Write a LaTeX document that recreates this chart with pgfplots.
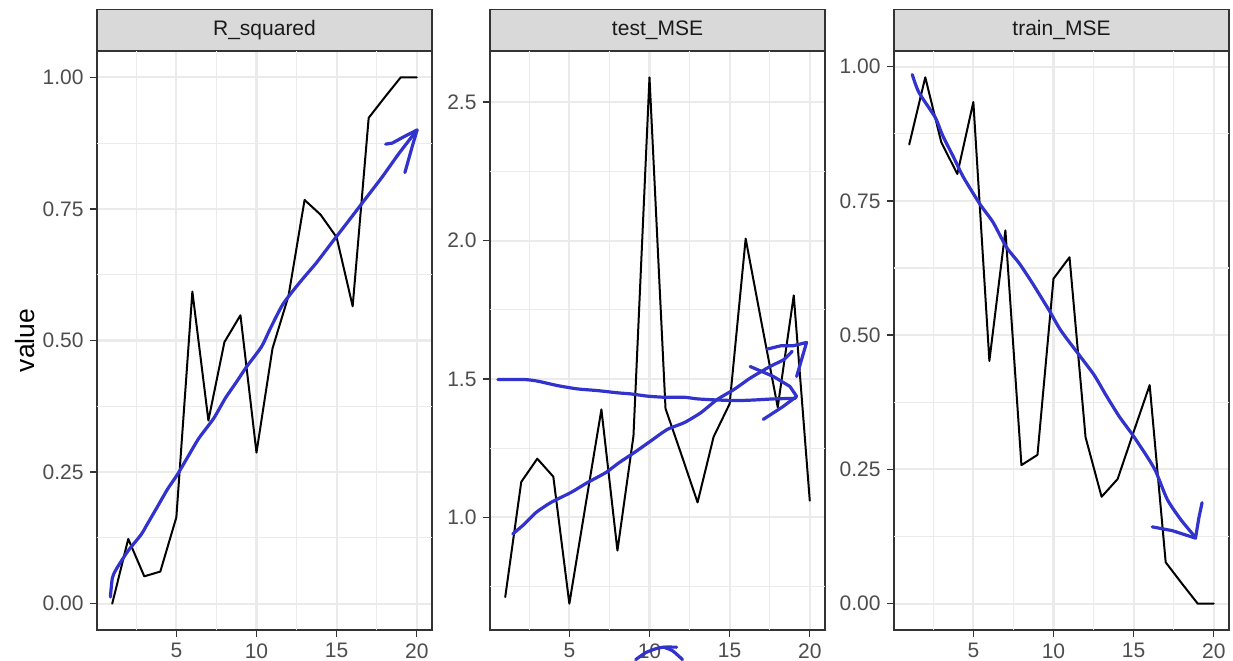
\documentclass[border=0pt]{standalone}
\usepackage{fontspec}
\setmainfont{Liberation Sans}
\usepackage{pgfplots}
\usepackage{pgfplotstable}
\pgfplotsset{compat=1.18}
\definecolor{gridc}{HTML}{EBEBEB}
\definecolor{stripc}{HTML}{D9D9D9}
\definecolor{borderc}{HTML}{333333}
\definecolor{tickc}{HTML}{4D4D4D}
\definecolor{stript}{HTML}{1A1A1A}
\definecolor{pen}{RGB}{50,50,205}

\pgfplotstableread{
x y
1 0.000
2 0.123
3 0.052
4 0.061
5 0.164
6 0.593
7 0.348
8 0.497
9 0.548
10 0.287
11 0.485
12 0.585
13 0.767
14 0.739
15 0.696
16 0.565
17 0.923
18 0.962
19 1.000
20 1.000
}\rsq
\pgfplotstableread{
x y
1 0.712
2 1.128
3 1.212
4 1.147
5 0.688
6 1.040
7 1.390
8 0.880
9 1.294
10 2.590
11 1.393
12 1.225
13 1.054
14 1.291
15 1.410
16 2.007
17 1.700
18 1.398
19 1.802
20 1.060
}\testmse
\pgfplotstableread{
x y
1 0.855
2 0.980
3 0.859
4 0.800
5 0.934
6 0.452
7 0.695
8 0.258
9 0.277
10 0.605
11 0.645
12 0.310
13 0.199
14 0.232
15 0.320
16 0.407
17 0.077
18 0.038
19 0.000
20 0.000
}\trainmse

\pgfplotsset{
  facet/.style={
    scale only axis, width=335bp, height=579bp,
    xmin=0.05, xmax=20.95,
    clip=false,
    xtick={5,10,15,20}, xticklabels={5,10,15,20},
    extra x ticks={2.5,7.5,12.5,17.5}, extra x tick labels={},
    extra x tick style={major grid style={gridc, line width=1.2bp}, tick style={draw=none}},
    extra y tick style={major grid style={gridc, line width=1.2bp}, tick style={draw=none}},
    grid=major,
    major grid style={gridc, line width=2.1bp},
    axis line style={borderc, line width=1.1bp},
    tick pos=left,
    tick align=outside,
    major tick length=7bp,
    tick style={borderc, line width=1.3bp},
    ticklabel style={font=\fontsize{21bp}{25bp}\selectfont, text=tickc},
    xticklabel style={yshift=-3bp},
    yticklabel style={xshift=-3bp},
    every axis title/.style={at={(0.5,1)}, anchor=south, fill=stripc, draw=borderc,
      line width=1.1bp, minimum width=335bp, minimum height=41bp, inner sep=0pt,
      font=\fontsize{21bp}{25bp}\selectfont, text=stript},
    every axis plot/.append style={line join=round, line cap=round},
  },
  tk/.style={borderc, line width=1.4bp, line cap=butt, forget plot},
  dat/.style={black, line width=2bp},
  penl/.style={pen, line width=3.2bp},
}

\begin{document}
\begin{tikzpicture}
\useasboundingbox (0,0) rectangle (1233bp,661bp);
% Panel 1
\begin{axis}[facet, at={(97bp,31bp)}, anchor=south west,
  title={R\_squared},
  ymin=-0.05, ymax=1.05,
  ytick={0,0.25,0.5,0.75,1}, yticklabels={0.00,0.25,0.50,0.75,1.00},
  extra y ticks={0.125,0.375,0.625,0.875}, extra y tick labels={},
  ylabel={value},
  every axis y label/.style={at={(axis description cs:-0.215,0.5)}, rotate=90, anchor=center,
    font=\fontsize{26.5bp}{30bp}\selectfont, text=black},
]
% tick marks
\addplot[tk] coordinates {(5,-0.05)(5,-0.0633)};
\addplot[tk] coordinates {(10,-0.05)(10,-0.0633)};
\addplot[tk] coordinates {(15,-0.05)(15,-0.0633)};
\addplot[tk] coordinates {(20,-0.05)(20,-0.0633)};
\addplot[tk] coordinates {(0.05,0)(-0.387,0)};
\addplot[tk] coordinates {(0.05,0.25)(-0.387,0.25)};
\addplot[tk] coordinates {(0.05,0.5)(-0.387,0.5)};
\addplot[tk] coordinates {(0.05,0.75)(-0.387,0.75)};
\addplot[tk] coordinates {(0.05,1)(-0.387,1)};
% data
\addplot[dat] table {\rsq};
\addplot[penl, smooth, tension=0.4] coordinates {
(0.885,0.0126)(1.01,0.049)(1.26,0.066)(1.98,0.10)(2.80,0.131)(3.11,0.147)(3.72,0.179)
(4.44,0.217)(5.06,0.245)(5.68,0.277)(6.40,0.314)(7.33,0.352)(8.05,0.39)(8.77,0.422)
(9.38,0.45)(10.31,0.488)(10.85,0.522)(11.65,0.569)(12.69,0.61)(13.72,0.647)(14.75,0.688)
(15.79,0.729)(16.82,0.77)(17.85,0.811)(18.88,0.855)(20.02,0.90)};
\addplot[penl] coordinates {
(18.06,0.873)(18.47,0.875)(19.19,0.887)(20.02,0.90)(19.71,0.868)(19.26,0.819)};
\end{axis}
% Panel 2
\begin{axis}[facet, at={(490bp,31bp)}, anchor=south west,
  title={test\_MSE},
  ymin=0.593, ymax=2.685,
  ytick={1,1.5,2,2.5}, yticklabels={1.0,1.5,2.0,2.5},
  extra y ticks={0.75,1.25,1.75,2.25}, extra y tick labels={},
]
\addplot[tk] coordinates {(5,0.593)(5,0.5677)};
\addplot[tk] coordinates {(10,0.593)(10,0.5677)};
\addplot[tk] coordinates {(15,0.593)(15,0.5677)};
\addplot[tk] coordinates {(20,0.593)(20,0.5677)};
\addplot[tk] coordinates {(0.05,1)(-0.387,1)};
\addplot[tk] coordinates {(0.05,1.5)(-0.387,1.5)};
\addplot[tk] coordinates {(0.05,2)(-0.387,2)};
\addplot[tk] coordinates {(0.05,2.5)(-0.387,2.5)};
\addplot[dat] table {\testmse};
\addplot[penl, smooth, tension=0.4] coordinates {
(0.54,1.498)(2.2,1.498)(3.03,1.492)(4.27,1.476)(5.52,1.464)(6.76,1.458)(8.0,1.45)
(8.84,1.446)(9.87,1.438)(10.91,1.434)(12.16,1.434)(12.99,1.428)(14.23,1.424)(15.48,1.422)
(16.51,1.424)(17.76,1.428)(19.11,1.43)};
\addplot[penl] coordinates {
(16.28,1.545)(17.73,1.509)(18.76,1.473)(19.18,1.437)(18.35,1.401)(17.1,1.354)};
\addplot[penl, smooth, tension=0.4] coordinates {
(1.47,0.94)(2.2,0.976)(2.93,1.018)(3.86,1.054)(5.1,1.09)(6.14,1.126)(7.28,1.162)
(8.11,1.198)(9.05,1.234)(10.08,1.276)(11.12,1.318)(12.16,1.342)(13.2,1.378)(14.23,1.426)
(15.27,1.462)(16.31,1.504)(17.55,1.546)(18.38,1.57)(18.9,1.6)};
\addplot[penl] coordinates {
(17.35,1.608)(18.2,1.62)(18.97,1.62)(19.80,1.632)(19.18,1.509)};
\addplot[penl, smooth, tension=0.4] coordinates {
(9.14,0.486)(9.76,0.511)(10.38,0.525)(10.88,0.531)(11.69,0.531)};
\addplot[penl, smooth, tension=0.4] coordinates {
(10.88,0.531)(11.44,0.518)(12.06,0.486)};
\end{axis}
% Panel 3
\begin{axis}[facet, at={(894bp,31bp)}, anchor=south west,
  title={train\_MSE},
  ymin=-0.049, ymax=1.029,
  ytick={0,0.25,0.5,0.75,1}, yticklabels={0.00,0.25,0.50,0.75,1.00},
  extra y ticks={0.125,0.375,0.625,0.875}, extra y tick labels={},
]
\addplot[tk] coordinates {(5,-0.049)(5,-0.062)};
\addplot[tk] coordinates {(10,-0.049)(10,-0.062)};
\addplot[tk] coordinates {(15,-0.049)(15,-0.062)};
\addplot[tk] coordinates {(20,-0.049)(20,-0.062)};
\addplot[tk] coordinates {(0.05,0)(-0.387,0)};
\addplot[tk] coordinates {(0.05,0.25)(-0.387,0.25)};
\addplot[tk] coordinates {(0.05,0.5)(-0.387,0.5)};
\addplot[tk] coordinates {(0.05,0.75)(-0.387,0.75)};
\addplot[tk] coordinates {(0.05,1)(-0.387,1)};
\addplot[dat] table {\trainmse};
\addplot[penl, smooth, tension=0.4] coordinates {
(1.19,0.985)(1.60,0.952)(2.63,0.905)(3.05,0.874)(3.77,0.831)(4.38,0.794)(5.41,0.744)
(6.23,0.710)(7.06,0.664)(7.88,0.633)(8.70,0.596)(9.73,0.546)(10.45,0.509)(11.6,0.463)
(12.53,0.426)(13.26,0.389)(14.09,0.349)(14.92,0.315)(15.75,0.278)(16.37,0.247)
(17.1,0.194)(17.93,0.157)(18.76,0.127)};
\addplot[penl] coordinates {
(16.16,0.143)(17.41,0.136)(18.86,0.122)(19.07,0.16)(19.27,0.188)};
\end{axis}
\end{tikzpicture}
\end{document}
